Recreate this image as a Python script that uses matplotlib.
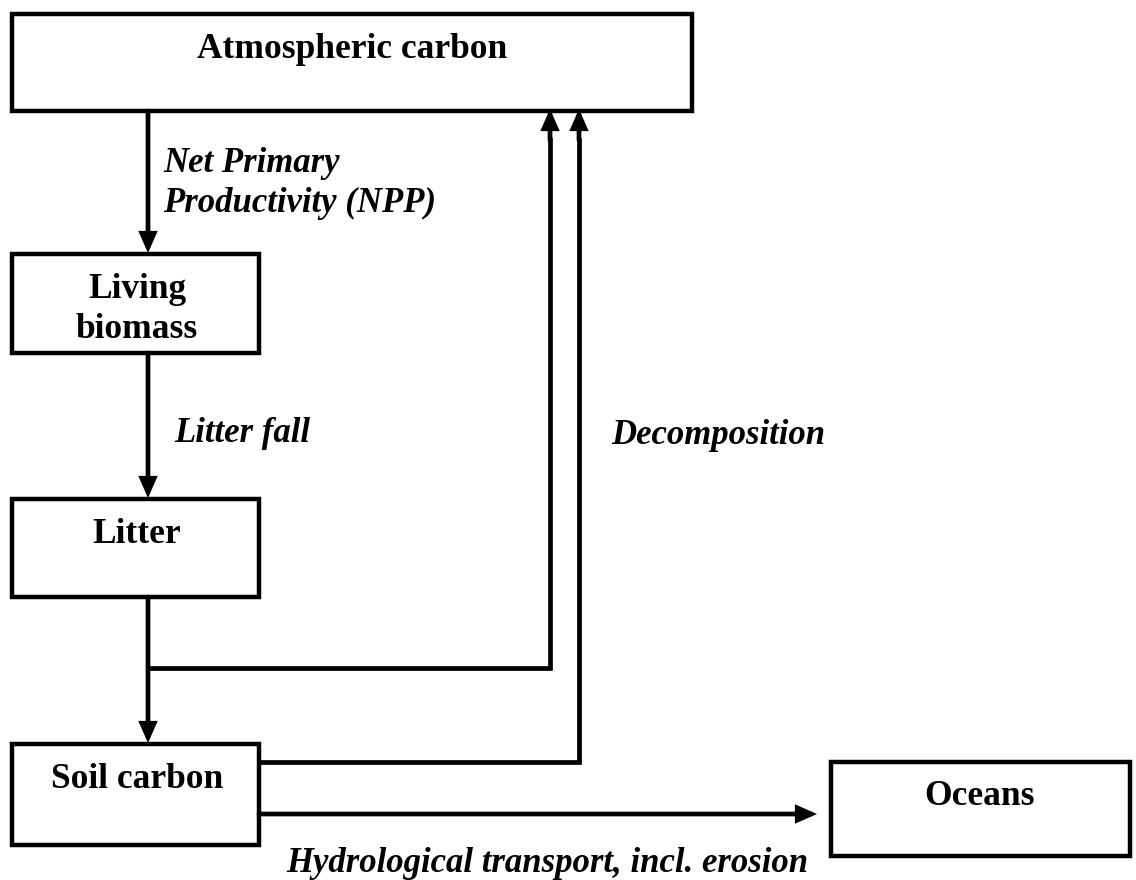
import matplotlib
matplotlib.use("Agg")
import matplotlib.pyplot as plt
from matplotlib.patches import Rectangle, FancyArrowPatch

# 박스 라벨
BOX_LABELS = ["Atmospheric carbon", "Living\nbiomass", "Litter", "Soil carbon", "Oceans"]
# 흐름 라벨
FLOW_LABELS = ["Net Primary\nProductivity (NPP)", "Litter fall", "Decomposition",
               "Hydrological transport, incl. erosion"]

# 레이아웃 (픽셀, 위에서 아래로). ty = 첫 줄 baseline
BOXES = {
    "Atmospheric carbon": dict(x=12, y=14, w=680, h=97, tx=352, ty=58),
    "Living\nbiomass":    dict(x=12, y=254, w=247, h=99, tx=137, ty=298),
    "Litter":             dict(x=12, y=499, w=247, h=98, tx=137, ty=543),
    "Soil carbon":        dict(x=12, y=744, w=247, h=101, tx=137, ty=788),
    "Oceans":             dict(x=831, y=762, w=299, h=94, tx=980, ty=805),
}
FLOWS = {
    FLOW_LABELS[0]: dict(tx=163, ty=172),
    FLOW_LABELS[1]: dict(tx=174, ty=442),
    FLOW_LABELS[2]: dict(tx=611, ty=444),
    FLOW_LABELS[3]: dict(tx=286, ty=872),
}

plt.rcParams["font.family"] = ["Liberation Serif", "DejaVu Serif"]

fig = plt.figure(figsize=(11.36, 8.8), dpi=100)
ax = fig.add_axes([0, 0, 1, 1])
ax.set_xlim(0, 1136)
ax.set_ylim(880, 0)
ax.axis("off")

BOX_LW = 3.2
LINE_LW = 3.4
FS_BOX = 25.5
FS_FLOW = 25
LINE_PITCH = 40  # 여러 줄 라벨 줄 간격(px)


def put_text(x, y, text, ha, **kw):
    for i, part in enumerate(text.split("\n")):
        ax.text(x, y + i * LINE_PITCH, part, ha=ha, va="baseline", **kw)


for label in BOX_LABELS:
    b = BOXES[label]
    ax.add_patch(Rectangle((b["x"], b["y"]), b["w"], b["h"], fill=False,
                           edgecolor="black", linewidth=BOX_LW, joinstyle="miter"))
    put_text(b["tx"], b["ty"], label, "center", fontsize=FS_BOX, fontweight="bold")


def arrow(x0, y0, x1, y1):
    ax.add_patch(FancyArrowPatch((x0, y0), (x1, y1),
                                 arrowstyle="-|>,head_length=0.5,head_width=0.22",
                                 mutation_scale=20, color="black", linewidth=LINE_LW,
                                 shrinkA=0, shrinkB=0, joinstyle="miter"))


def line(xs, ys):
    ax.plot(xs, ys, color="black", linewidth=LINE_LW, solid_capstyle="projecting",
            solid_joinstyle="miter")


# NPP
arrow(148, 111, 148, 253)
# Litter fall
arrow(148, 353, 148, 498)
# 낙엽 → 토양
arrow(148, 597, 148, 743)
# 낙엽 분해 → 대기
line([148, 550, 550], [668, 668, 140])
arrow(550, 140, 550, 109)
# 토양 분해 → 대기
line([259, 579, 579], [762, 762, 140])
arrow(579, 140, 579, 109)
# 수문 이동 → 해양
arrow(259, 814, 817, 814)

for label in FLOW_LABELS:
    f = FLOWS[label]
    put_text(f["tx"], f["ty"], label, "left", fontsize=FS_FLOW,
             fontweight="bold", fontstyle="italic")

fig.savefig("out.png", dpi=100)
